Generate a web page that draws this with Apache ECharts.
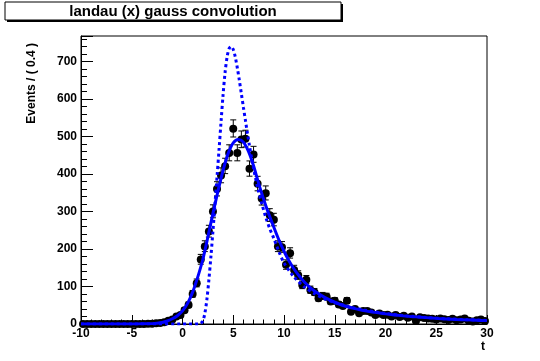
<!DOCTYPE html>
<html><head><meta charset="utf-8">
<script src="https://cdn.jsdelivr.net/npm/echarts@6/dist/echarts.min.js"></script>
<style>html,body{margin:0;padding:0;background:#fff}#c{width:540px;height:361px}</style>
</head><body><div id="c"></div>
<script>
// ---- data ----
const binCenters = [
 -9.8,-9.4,-9.0,-8.6,-8.2,-7.8,-7.4,-7.0,-6.6,-6.2,
 -5.8,-5.4,-5.0,-4.6,-4.2,-3.8,-3.4,-3.0,-2.6,-2.2,
 -1.8,-1.4,-1.0,-0.6,-0.2,0.2,0.6,1.0,1.4,1.8,
 2.2,2.6,3.0,3.4,3.8,4.2,4.6,5.0,5.4,5.8,
 6.2,6.6,7.0,7.4,7.8,8.2,8.6,9.0,9.4,9.8,
 10.2,10.6,11.0,11.4,11.8,12.2,12.6,13.0,13.4,13.8,
 14.2,14.6,15.0,15.4,15.8,16.2,16.6,17.0,17.4,17.8,
 18.2,18.6,19.0,19.4,19.8,20.2,20.6,21.0,21.4,21.8,
 22.2,22.6,23.0,23.4,23.8,24.2,24.6,25.0,25.4,25.8,
 26.2,26.6,27.0,27.4,27.8,28.2,28.6,29.0,29.4,29.8];
const counts = [
 0,0,0,0,0,0,0,0,0,0,
 0,0,0,0,0,0,1,1,2,3,
 5,9,12,20,24,37,51,80,109,172,
 207,247,300,360,396,421,456,521,456,492,
 494,414,452,374,335,349,290,278,207,205,
 158,189,144,130,104,118,91,85,69,75,
 73,60,62,52,48,62,33,40,29,35,
 35,31,24,28,24,25,20,24,19,22,
 17,20,8,18,16,15,14,12,15,13,
 11,14,10,12,15,9,7,10,12,8];
const halfBin = 0.2;

// fitted landau (x) gauss convolution (solid)
const convT = [-10,-5,-4,-3,-2.5,-2,-1.5,-1,-0.5,0,0.5,1,1.5,2,2.5,3,3.5,4,4.5,5,5.5,6,6.5,7,7.5,8,8.5,9,9.5,10,10.5,11,11.5,12,12.5,13,14,15,16,17,18,19,20,21,22,23,24,25,26,27,28,29,30];
const convV = [0,0.1,0.4,1,2,4,8,14,22,35,55,85,125,172,232,295,355,410,455,483,492,485,460,422,375,332,293,258,224,194,168,146,128,112,99,88,71,58,48,41,35,31,27,24,21,19,17,15,13.5,12,11,10,9];

// landau alone (dashed)
const landT = [-10,1.6,1.8,2.0,2.2,2.4,2.6,2.8,3.0,3.2,3.4,3.6,3.8,4.0,4.2,4.4,4.6,4.8,5.0,5.2,5.4,5.6,5.8,6.0,6.2,6.4,6.6,6.8,7.0,7.4,7.8,8.2,8.6,9.0,9.5,10,11,12,13,14,15,16,17,18,19,20,22,24,26,28,30];
const landV = [0,0,2,8,28,65,118,180,248,320,392,465,540,612,672,713,735,740,732,712,683,650,614,578,543,508,475,444,415,364,322,285,254,228,193,163,125,99,81,67,57,49,42,37,32,28,22,17.5,14,11.5,9.5];

const xTicks = {min:-10, max:30, interval:5};
const yTicks = {min:0, max:768, interval:100};

// ---- build ----
const pts = binCenters.map((t,i)=>[t,counts[i]]);
const errs = binCenters.map((t,i)=>{
  const n = counts[i];
  let lo, hi;
  if (n === 0) { lo = 0; hi = 1.84; }
  else { const s = Math.sqrt(n + 0.25); lo = n + 0.5 - s; hi = n + 0.5 + s; }
  return [t, n, lo, hi];
});
const convData = convT.map((t,i)=>[t,convV[i]]);
const landData = landT.map((t,i)=>[t,landV[i]]);

const FONT = 'Liberation Sans, Arial, Helvetica, sans-serif';
const chart = echarts.init(document.getElementById('c'), null, {renderer:'canvas'});

function renderErr(params, api){
  const t = api.value(0), n = api.value(1), lo = api.value(2), hi = api.value(3);
  const pLo = api.coord([t, lo]), pHi = api.coord([t, hi]);
  const pL = api.coord([t - halfBin, n]), pR = api.coord([t + halfBin, n]);
  const cap = 3;
  const st = {stroke:'#000', lineWidth:1};
  return {type:'group', children:[
    {type:'line', shape:{x1:pLo[0],y1:pLo[1],x2:pHi[0],y2:pHi[1]}, style:st},
    {type:'line', shape:{x1:pLo[0]-cap,y1:pLo[1],x2:pLo[0]+cap,y2:pLo[1]}, style:st},
    {type:'line', shape:{x1:pHi[0]-cap,y1:pHi[1],x2:pHi[0]+cap,y2:pHi[1]}, style:st},
    {type:'line', shape:{x1:pL[0],y1:pL[1],x2:pR[0],y2:pR[1]}, style:st}
  ]};
}

chart.setOption({
  animation:false,
  backgroundColor:'#fff',
  grid:{left:81, right:53, top:36, bottom:37, show:true, borderColor:'#000', borderWidth:1, backgroundColor:'transparent'},
  xAxis:{type:'value', min:xTicks.min, max:xTicks.max, interval:xTicks.interval,
    axisLine:{show:true, onZero:false, lineStyle:{color:'#000', width:1}},
    axisTick:{show:true, inside:true, length:9, lineStyle:{color:'#000'}},
    minorTick:{show:true, splitNumber:5, length:4.5, lineStyle:{color:'#000'}},
    splitLine:{show:false},
    axisLabel:{color:'#000', fontFamily:FONT, fontWeight:'bold', fontSize:12, margin:4}
  },
  yAxis:{type:'value', min:yTicks.min, max:yTicks.max, interval:yTicks.interval,
    axisLine:{show:true, onZero:false, lineStyle:{color:'#000', width:1}},
    axisTick:{show:true, inside:true, length:12, lineStyle:{color:'#000'}},
    minorTick:{show:true, splitNumber:5, length:6, lineStyle:{color:'#000'}},
    splitLine:{show:false},
    axisLabel:{color:'#000', fontFamily:FONT, fontWeight:'bold', fontSize:12, margin:4, showMaxLabel:false}
  },
  graphic:[
    {type:'rect', shape:{x:7, y:4, width:336, height:18}, style:{fill:'#000'}, z:10},
    {type:'rect', shape:{x:5, y:2, width:336, height:18}, style:{fill:'#fff', stroke:'#000', lineWidth:1}, z:11},
    {type:'text', x:173, y:11.5, z:12, style:{text:'landau (x) gauss convolution', font:'bold 15px '+FONT, fill:'#000', align:'center', verticalAlign:'middle'}},
    {type:'text', x:32, y:43, rotation:Math.PI/2, z:12, style:{text:'Events / ( 0.4 )', font:'bold 12px '+FONT, fill:'#000', align:'right', verticalAlign:'middle'}},
    {type:'text', x:483, y:347, z:12, style:{text:'t', font:'bold 12px '+FONT, fill:'#000', align:'center', verticalAlign:'middle'}}
  ],
  series:[
    {type:'custom', name:'errors', data:errs, renderItem:renderErr, clip:true, z:2, silent:true},
    {type:'scatter', name:'data', data:pts, symbol:'circle', symbolSize:8, itemStyle:{color:'#000', opacity:1}, z:3, silent:true},
    {type:'line', name:'lxg', data:convData, showSymbol:false, smooth:0.3, lineStyle:{color:'#0000ff', width:3}, z:4, silent:true},
    {type:'line', name:'landau', data:landData, showSymbol:false, smooth:0.3, lineStyle:{color:'#0000ff', width:3, type:[3,3]}, z:5, silent:true}
  ]
});
</script>
</body></html>
